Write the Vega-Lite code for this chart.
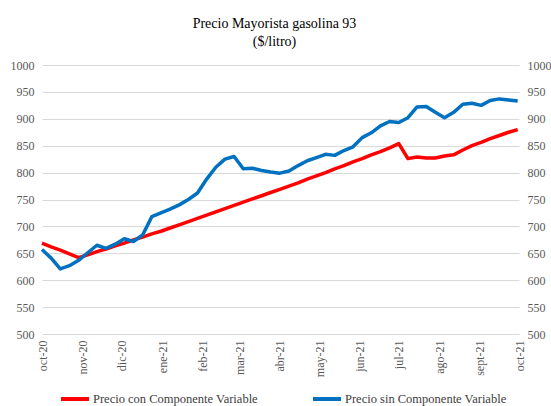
{
  "$schema": "https://vega.github.io/schema/vega-lite/v6.json",
  "width": 477,
  "height": 269,
  "autosize": {"type": "none"},
  "padding": {"left": 42, "top": 65, "right": 32, "bottom": 72},
  "background": "white",
  "title": {
    "text": ["Precio Mayorista gasolina 93", "($/litro)"],
    "font": "Liberation Serif",
    "fontSize": 14,
    "fontWeight": "normal",
    "color": "#000000",
    "anchor": "middle",
    "frame": "group",
    "offset": 10,
    "dx": -6,
    "lineHeight": 18
  },
  "config": {
    "view": {"stroke": null},
    "axis": {"labelFont": "Liberation Serif", "labelFontSize": 12, "labelColor": "#595959"},
    "legend": {"labelFont": "Liberation Serif", "labelFontSize": 12.5, "labelColor": "#404040"}
  },
  "data": {
    "values": [
      {"fecha": "2020-10-01", "serie": "Precio con Componente Variable", "precio": 669},
      {"fecha": "2020-10-08", "serie": "Precio con Componente Variable", "precio": 662},
      {"fecha": "2020-10-15", "serie": "Precio con Componente Variable", "precio": 656},
      {"fecha": "2020-10-22", "serie": "Precio con Componente Variable", "precio": 649},
      {"fecha": "2020-10-29", "serie": "Precio con Componente Variable", "precio": 642},
      {"fecha": "2020-11-05", "serie": "Precio con Componente Variable", "precio": 647},
      {"fecha": "2020-11-12", "serie": "Precio con Componente Variable", "precio": 653},
      {"fecha": "2020-11-19", "serie": "Precio con Componente Variable", "precio": 658},
      {"fecha": "2020-11-26", "serie": "Precio con Componente Variable", "precio": 664},
      {"fecha": "2020-12-03", "serie": "Precio con Componente Variable", "precio": 669},
      {"fecha": "2020-12-10", "serie": "Precio con Componente Variable", "precio": 675},
      {"fecha": "2020-12-17", "serie": "Precio con Componente Variable", "precio": 680},
      {"fecha": "2020-12-24", "serie": "Precio con Componente Variable", "precio": 686},
      {"fecha": "2020-12-31", "serie": "Precio con Componente Variable", "precio": 691},
      {"fecha": "2021-01-07", "serie": "Precio con Componente Variable", "precio": 697},
      {"fecha": "2021-01-14", "serie": "Precio con Componente Variable", "precio": 703},
      {"fecha": "2021-01-21", "serie": "Precio con Componente Variable", "precio": 709},
      {"fecha": "2021-01-28", "serie": "Precio con Componente Variable", "precio": 715},
      {"fecha": "2021-02-04", "serie": "Precio con Componente Variable", "precio": 721},
      {"fecha": "2021-02-11", "serie": "Precio con Componente Variable", "precio": 727},
      {"fecha": "2021-02-18", "serie": "Precio con Componente Variable", "precio": 733},
      {"fecha": "2021-02-25", "serie": "Precio con Componente Variable", "precio": 739},
      {"fecha": "2021-03-04", "serie": "Precio con Componente Variable", "precio": 745},
      {"fecha": "2021-03-11", "serie": "Precio con Componente Variable", "precio": 751},
      {"fecha": "2021-03-18", "serie": "Precio con Componente Variable", "precio": 757},
      {"fecha": "2021-03-25", "serie": "Precio con Componente Variable", "precio": 763},
      {"fecha": "2021-04-01", "serie": "Precio con Componente Variable", "precio": 769},
      {"fecha": "2021-04-08", "serie": "Precio con Componente Variable", "precio": 775},
      {"fecha": "2021-04-15", "serie": "Precio con Componente Variable", "precio": 781},
      {"fecha": "2021-04-22", "serie": "Precio con Componente Variable", "precio": 788},
      {"fecha": "2021-04-29", "serie": "Precio con Componente Variable", "precio": 794},
      {"fecha": "2021-05-06", "serie": "Precio con Componente Variable", "precio": 800},
      {"fecha": "2021-05-13", "serie": "Precio con Componente Variable", "precio": 807},
      {"fecha": "2021-05-20", "serie": "Precio con Componente Variable", "precio": 813},
      {"fecha": "2021-05-27", "serie": "Precio con Componente Variable", "precio": 820},
      {"fecha": "2021-06-03", "serie": "Precio con Componente Variable", "precio": 826},
      {"fecha": "2021-06-10", "serie": "Precio con Componente Variable", "precio": 833},
      {"fecha": "2021-06-17", "serie": "Precio con Componente Variable", "precio": 839},
      {"fecha": "2021-06-24", "serie": "Precio con Componente Variable", "precio": 846},
      {"fecha": "2021-07-01", "serie": "Precio con Componente Variable", "precio": 854},
      {"fecha": "2021-07-08", "serie": "Precio con Componente Variable", "precio": 826},
      {"fecha": "2021-07-15", "serie": "Precio con Componente Variable", "precio": 829},
      {"fecha": "2021-07-22", "serie": "Precio con Componente Variable", "precio": 827},
      {"fecha": "2021-07-29", "serie": "Precio con Componente Variable", "precio": 827},
      {"fecha": "2021-08-05", "serie": "Precio con Componente Variable", "precio": 831},
      {"fecha": "2021-08-12", "serie": "Precio con Componente Variable", "precio": 833},
      {"fecha": "2021-08-19", "serie": "Precio con Componente Variable", "precio": 842},
      {"fecha": "2021-08-26", "serie": "Precio con Componente Variable", "precio": 850},
      {"fecha": "2021-09-02", "serie": "Precio con Componente Variable", "precio": 856},
      {"fecha": "2021-09-09", "serie": "Precio con Componente Variable", "precio": 863},
      {"fecha": "2021-09-16", "serie": "Precio con Componente Variable", "precio": 869},
      {"fecha": "2021-09-23", "serie": "Precio con Componente Variable", "precio": 875},
      {"fecha": "2021-09-30", "serie": "Precio con Componente Variable", "precio": 880},
      {"fecha": "2020-10-01", "serie": "Precio sin Componente Variable", "precio": 657},
      {"fecha": "2020-10-08", "serie": "Precio sin Componente Variable", "precio": 641},
      {"fecha": "2020-10-15", "serie": "Precio sin Componente Variable", "precio": 621},
      {"fecha": "2020-10-22", "serie": "Precio sin Componente Variable", "precio": 627},
      {"fecha": "2020-10-29", "serie": "Precio sin Componente Variable", "precio": 637},
      {"fecha": "2020-11-05", "serie": "Precio sin Componente Variable", "precio": 651},
      {"fecha": "2020-11-12", "serie": "Precio sin Componente Variable", "precio": 665},
      {"fecha": "2020-11-19", "serie": "Precio sin Componente Variable", "precio": 659},
      {"fecha": "2020-11-26", "serie": "Precio sin Componente Variable", "precio": 667},
      {"fecha": "2020-12-03", "serie": "Precio sin Componente Variable", "precio": 677},
      {"fecha": "2020-12-10", "serie": "Precio sin Componente Variable", "precio": 672},
      {"fecha": "2020-12-17", "serie": "Precio sin Componente Variable", "precio": 684},
      {"fecha": "2020-12-24", "serie": "Precio sin Componente Variable", "precio": 718},
      {"fecha": "2020-12-31", "serie": "Precio sin Componente Variable", "precio": 725},
      {"fecha": "2021-01-07", "serie": "Precio sin Componente Variable", "precio": 732},
      {"fecha": "2021-01-14", "serie": "Precio sin Componente Variable", "precio": 740},
      {"fecha": "2021-01-21", "serie": "Precio sin Componente Variable", "precio": 750},
      {"fecha": "2021-01-28", "serie": "Precio sin Componente Variable", "precio": 762},
      {"fecha": "2021-02-04", "serie": "Precio sin Componente Variable", "precio": 788},
      {"fecha": "2021-02-11", "serie": "Precio sin Componente Variable", "precio": 810},
      {"fecha": "2021-02-18", "serie": "Precio sin Componente Variable", "precio": 825},
      {"fecha": "2021-02-25", "serie": "Precio sin Componente Variable", "precio": 830},
      {"fecha": "2021-03-04", "serie": "Precio sin Componente Variable", "precio": 807},
      {"fecha": "2021-03-11", "serie": "Precio sin Componente Variable", "precio": 808},
      {"fecha": "2021-03-18", "serie": "Precio sin Componente Variable", "precio": 804},
      {"fecha": "2021-03-25", "serie": "Precio sin Componente Variable", "precio": 801},
      {"fecha": "2021-04-01", "serie": "Precio sin Componente Variable", "precio": 799},
      {"fecha": "2021-04-08", "serie": "Precio sin Componente Variable", "precio": 803},
      {"fecha": "2021-04-15", "serie": "Precio sin Componente Variable", "precio": 813},
      {"fecha": "2021-04-22", "serie": "Precio sin Componente Variable", "precio": 822},
      {"fecha": "2021-04-29", "serie": "Precio sin Componente Variable", "precio": 828},
      {"fecha": "2021-05-06", "serie": "Precio sin Componente Variable", "precio": 834},
      {"fecha": "2021-05-13", "serie": "Precio sin Componente Variable", "precio": 832},
      {"fecha": "2021-05-20", "serie": "Precio sin Componente Variable", "precio": 841},
      {"fecha": "2021-05-27", "serie": "Precio sin Componente Variable", "precio": 848},
      {"fecha": "2021-06-03", "serie": "Precio sin Componente Variable", "precio": 865},
      {"fecha": "2021-06-10", "serie": "Precio sin Componente Variable", "precio": 874},
      {"fecha": "2021-06-17", "serie": "Precio sin Componente Variable", "precio": 887},
      {"fecha": "2021-06-24", "serie": "Precio sin Componente Variable", "precio": 895},
      {"fecha": "2021-07-01", "serie": "Precio sin Componente Variable", "precio": 893},
      {"fecha": "2021-07-08", "serie": "Precio sin Componente Variable", "precio": 902},
      {"fecha": "2021-07-15", "serie": "Precio sin Componente Variable", "precio": 922},
      {"fecha": "2021-07-22", "serie": "Precio sin Componente Variable", "precio": 923},
      {"fecha": "2021-07-29", "serie": "Precio sin Componente Variable", "precio": 912},
      {"fecha": "2021-08-05", "serie": "Precio sin Componente Variable", "precio": 902},
      {"fecha": "2021-08-12", "serie": "Precio sin Componente Variable", "precio": 912},
      {"fecha": "2021-08-19", "serie": "Precio sin Componente Variable", "precio": 927},
      {"fecha": "2021-08-26", "serie": "Precio sin Componente Variable", "precio": 929},
      {"fecha": "2021-09-02", "serie": "Precio sin Componente Variable", "precio": 925},
      {"fecha": "2021-09-09", "serie": "Precio sin Componente Variable", "precio": 934},
      {"fecha": "2021-09-16", "serie": "Precio sin Componente Variable", "precio": 937},
      {"fecha": "2021-09-23", "serie": "Precio sin Componente Variable", "precio": 935},
      {"fecha": "2021-09-30", "serie": "Precio sin Componente Variable", "precio": 933}
    ]
  },
  "encoding": {
    "x": {
      "field": "fecha",
      "type": "temporal",
      "title": null,
      "scale": {
        "type": "utc",
        "domain": [
          {"year": 2020, "month": 10, "date": 1, "utc": true},
          {"year": 2021, "month": 10, "date": 1, "utc": true}
        ]
      },
      "axis": {
        "tickCount": {"interval": "month", "step": 1},
        "labelExpr": "['ene','feb','mar','abr','may','jun','jul','ago','sept','oct','nov','dic'][utcmonth(datum.value)] + '-' + utcFormat(datum.value, '%y')",
        "labelFont": "Liberation Serif",
        "labelFontSize": 12,
        "labelColor": "#595959",
        "labelAngle": 270,
        "labelAlign": "right",
        "labelBaseline": "middle",
        "labelPadding": 6,
        "labelFlush": false,
        "labelOverlap": false,
        "domain": false,
        "ticks": false,
        "grid": false
      }
    },
    "y": {
      "field": "precio",
      "type": "quantitative",
      "title": null,
      "scale": {"domain": [500, 1000], "nice": false, "zero": false}
    }
  },
  "layer": [
    {
      "mark": {"type": "line", "strokeWidth": 3.5, "strokeCap": "butt", "strokeJoin": "round"},
      "encoding": {
        "color": {
          "field": "serie",
          "type": "nominal",
          "scale": {
            "domain": ["Precio con Componente Variable", "Precio sin Componente Variable"],
            "range": ["#FF0000", "#0070C0"]
          },
          "legend": {
            "title": null,
            "orient": "none",
            "legendX": 17,
            "legendY": 318,
            "direction": "horizontal",
            "symbolType": "stroke",
            "symbolSize": 784,
            "symbolStrokeWidth": 4,
            "labelFont": "Liberation Serif",
            "labelFontSize": 12.5,
            "labelColor": "#404040",
            "labelOffset": 2,
            "columnPadding": 47,
            "labelLimit": 300
          }
        },
        "y": {
          "field": "precio",
          "type": "quantitative",
          "axis": {
            "orient": "left",
            "values": [500, 550, 600, 650, 700, 750, 800, 850, 900, 950, 1000],
            "format": "d",
            "labelFont": "Liberation Serif",
            "labelFontSize": 12,
            "labelColor": "#595959",
            "domain": false,
            "ticks": false,
            "labelPadding": 8,
            "grid": true,
            "gridColor": "#d9d9d9",
            "gridWidth": 1
          }
        }
      }
    },
    {
      "mark": {"type": "line", "opacity": 0},
      "encoding": {
        "detail": {"field": "serie"},
        "y": {
          "field": "precio",
          "type": "quantitative",
          "axis": {
            "orient": "right",
            "values": [500, 550, 600, 650, 700, 750, 800, 850, 900, 950, 1000],
            "format": "d",
            "labelFont": "Liberation Serif",
            "labelFontSize": 12,
            "labelColor": "#595959",
            "domain": false,
            "ticks": false,
            "labelPadding": 8,
            "grid": false
          }
        }
      }
    }
  ],
  "resolve": {"axis": {"y": "independent"}}
}
